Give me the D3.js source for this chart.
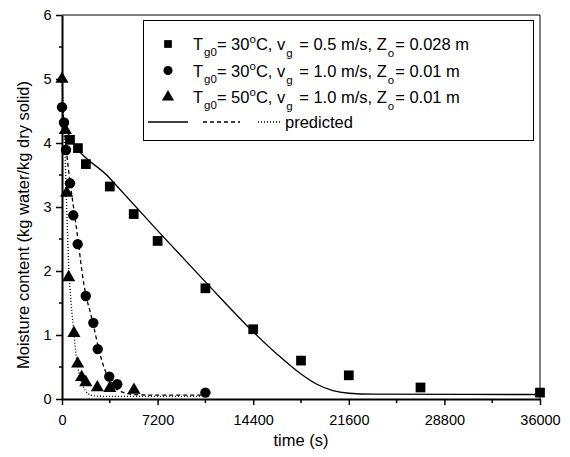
<!DOCTYPE html>
<html>
<head>
<meta charset="utf-8">
<script src="https://cdn.jsdelivr.net/npm/d3@7"></script>
<style>
  body { margin: 0; background: #fff; }
  text { font-family: Arial, "Liberation Sans", sans-serif; fill: #000; }
</style>
</head>
<body>
<svg width="570" height="457"></svg>
<script>
// measured points, time in s, moisture in kg water / kg dry solid
const sqTime = [600, 1200, 1800, 3600, 5400, 7200, 10800, 14400, 18000, 21600, 27000, 36000];
const sqMoist = [4.05, 3.92, 3.67, 3.32, 2.89, 2.47, 1.73, 1.09, 0.60, 0.37, 0.18, 0.10];

const ciTime = [0, 150, 300, 600, 850, 1180, 1790, 2360, 2690, 3560, 4160, 10800];
const ciMoist = [4.56, 4.32, 3.89, 3.37, 2.87, 2.42, 1.61, 1.19, 0.78, 0.35, 0.23, 0.10];

const trTime = [0, 250, 350, 500, 900, 1180, 1480, 1790, 2660, 3600, 5420];
const trMoist = [5.0, 4.2, 3.22, 1.9, 1.03, 0.55, 0.34, 0.26, 0.18, 0.17, 0.14];

// predicted curves
const solidTime = [0, 300, 3600, 7200, 10800, 14400, 16200, 18000, 19200, 20400, 21600, 23400, 36000];
const solidMoist = [4.38, 4.22, 3.45, 2.63, 1.83, 1.05, 0.70, 0.39, 0.23, 0.13, 0.09, 0.075, 0.07];

const dashTime = [0, 150, 300, 600, 900, 1200, 1500, 1800, 2100, 2400, 2700, 3000, 3300, 3600, 4000, 4500, 5400, 7200, 10800];
const dashMoist = [4.56, 4.3, 3.95, 3.4, 2.95, 2.5, 2.0, 1.62, 1.38, 1.12, 0.84, 0.6, 0.42, 0.3, 0.18, 0.11, 0.07, 0.06, 0.06];

const dotTime = [0, 100, 200, 300, 400, 500, 600, 750, 900, 1100, 1300, 1500, 1800, 2200, 2700, 3600, 5400, 10800];
const dotMoist = [5.0, 4.5, 4.0, 3.35, 2.7, 2.1, 1.75, 1.35, 1.02, 0.62, 0.38, 0.24, 0.12, 0.06, 0.045, 0.04, 0.04, 0.04];

const xTicks = [0, 7200, 14400, 21600, 28800, 36000];
const yTicks = [0, 1, 2, 3, 4, 5, 6];

const legendRows = [
  { shape: "square", T: "30", v: "0.5", Z: "0.028" },
  { shape: "circle", T: "30", v: "1.0", Z: "0.01" },
  { shape: "triangle", T: "50", v: "1.0", Z: "0.01" }
];

const svg = d3.select("svg");
const mLeft = 62, mRight = 540, mTop = 15, mBottom = 399;

const x = d3.scaleLinear().domain([0, 36000]).range([mLeft, mRight]);
const y = d3.scaleLinear().domain([0, 6]).range([mBottom, mTop]);

// frame (top and right)
svg.append("line").attr("x1", mLeft).attr("x2", mRight).attr("y1", mTop).attr("y2", mTop)
  .attr("stroke", "#000").attr("stroke-width", 1);
svg.append("line").attr("x1", mRight).attr("x2", mRight).attr("y1", mTop).attr("y2", mBottom)
  .attr("stroke", "#000").attr("stroke-width", 1);

// minor ticks
const xMinor = d3.range(3600, 36000, 7200);
svg.append("g").selectAll("line").data(xMinor).join("line")
  .attr("x1", d => x(d)).attr("x2", d => x(d))
  .attr("y1", mBottom).attr("y2", mBottom + 4)
  .attr("stroke", "#000").attr("stroke-width", 1.5);
const yMinor = d3.range(0.5, 6, 1);
svg.append("g").selectAll("line").data(yMinor).join("line")
  .attr("x1", mLeft - 3).attr("x2", mLeft)
  .attr("y1", d => y(d)).attr("y2", d => y(d))
  .attr("stroke", "#000").attr("stroke-width", 1.5);

const xAxis = svg.append("g")
  .attr("transform", `translate(0,${mBottom})`)
  .call(d3.axisBottom(x).tickValues(xTicks).tickFormat(d3.format("d")).tickSize(6).tickSizeOuter(0));
const yAxis = svg.append("g")
  .attr("transform", `translate(${mLeft},0)`)
  .call(d3.axisLeft(y).tickValues(yTicks).tickFormat(d3.format("d")).tickSize(6).tickSizeOuter(0));

[xAxis, yAxis].forEach(a => {
  a.select(".domain").attr("stroke-width", 2);
  a.selectAll(".tick line").attr("stroke-width", 1.5);
  a.selectAll("text").attr("font-size", 14.5).attr("font-family", "Arial, 'Liberation Sans', sans-serif");
});
xAxis.selectAll("text").attr("dy", "1.2em");
yAxis.selectAll("text").attr("dx", "-0.1em");

// axis titles
svg.append("text")
  .attr("x", (mLeft + mRight) / 2).attr("y", 446)
  .attr("text-anchor", "middle").attr("font-size", 16.5)
  .text("time (s)");
svg.append("text")
  .attr("transform", `translate(29,225) rotate(-90)`)
  .attr("text-anchor", "middle").attr("font-size", 16.5)
  .text("Moisture content (kg water/kg dry solid)");

// predicted lines
const line = d3.line().x(d => x(d[0])).y(d => y(d[1])).curve(d3.curveMonotoneX);
const lines = [
  { t: solidTime, m: solidMoist, dash: null },
  { t: dashTime, m: dashMoist, dash: "4,3" },
  { t: dotTime, m: dotMoist, dash: "1,2" }
];
lines.forEach(l => {
  svg.append("path")
    .datum(d3.zip(l.t, l.m))
    .attr("d", line)
    .attr("fill", "none")
    .attr("stroke", "#000")
    .attr("stroke-width", 1.3)
    .attr("stroke-dasharray", l.dash);
});

// symbols
const sym = {
  square: d3.symbol().type(d3.symbolSquare).size(95),
  circle: d3.symbol().type(d3.symbolCircle).size(85),
  triangle: d3.symbol().type(d3.symbolTriangle).size(75)
};
const series = [
  { t: sqTime, m: sqMoist, shape: "square" },
  { t: ciTime, m: ciMoist, shape: "circle" },
  { t: trTime, m: trMoist, shape: "triangle" }
];
series.forEach(s => {
  svg.append("g").selectAll("path").data(d3.zip(s.t, s.m)).join("path")
    .attr("transform", d => `translate(${x(d[0])},${y(d[1])})`)
    .attr("d", sym[s.shape])
    .attr("fill", "#000");
});

// legend
const lg = svg.append("g");
lg.append("rect")
  .attr("x", 143.5).attr("y", 20.5).attr("width", 390).attr("height", 120)
  .attr("fill", "#fff").attr("stroke", "#000").attr("stroke-width", 1);

const rowY = [44, 70.5, 97];
legendRows.forEach((r, i) => {
  lg.append("path")
    .attr("transform", `translate(168,${rowY[i]})`)
    .attr("d", d3.symbol().type(r.shape === "square" ? d3.symbolSquare : r.shape === "circle" ? d3.symbolCircle : d3.symbolTriangle).size(r.shape === "square" ? 60 : 64))
    .attr("fill", "#000");
  const t = lg.append("text").attr("x", 193).attr("y", rowY[i] + 6).attr("font-size", 16.5);
  t.append("tspan").text("T");
  t.append("tspan").attr("font-size", 11.5).attr("dx", 1).attr("dy", 6).text("g0");
  t.append("tspan").attr("dy", -6).text(`= ${r.T}`);
  t.append("tspan").attr("font-size", 11.5).attr("dy", -7).text("o");
  t.append("tspan").attr("dy", 7).text("C, v");
  t.append("tspan").attr("font-size", 11.5).attr("dx", 1).attr("dy", 7).text("g");
  t.append("tspan").attr("dx", 2).attr("dy", -7).text(` = ${r.v} m/s, Z`);
  t.append("tspan").attr("font-size", 11.5).attr("dx", 1).attr("dy", 7).text("o");
  t.append("tspan").attr("dx", 1).attr("dy", -7).text(`= ${r.Z} m`);
});

const ly = 122;
[[148, 188, null], [203, 240, "4,3"], [258, 281, "1,2"]].forEach(s => {
  lg.append("line")
    .attr("x1", s[0]).attr("x2", s[1]).attr("y1", ly).attr("y2", ly)
    .attr("stroke", "#000").attr("stroke-width", 1.3)
    .attr("stroke-dasharray", s[2]);
});
lg.append("text").attr("x", 285).attr("y", ly + 6).attr("font-size", 16.5).text("predicted");
</script>
</body>
</html>
